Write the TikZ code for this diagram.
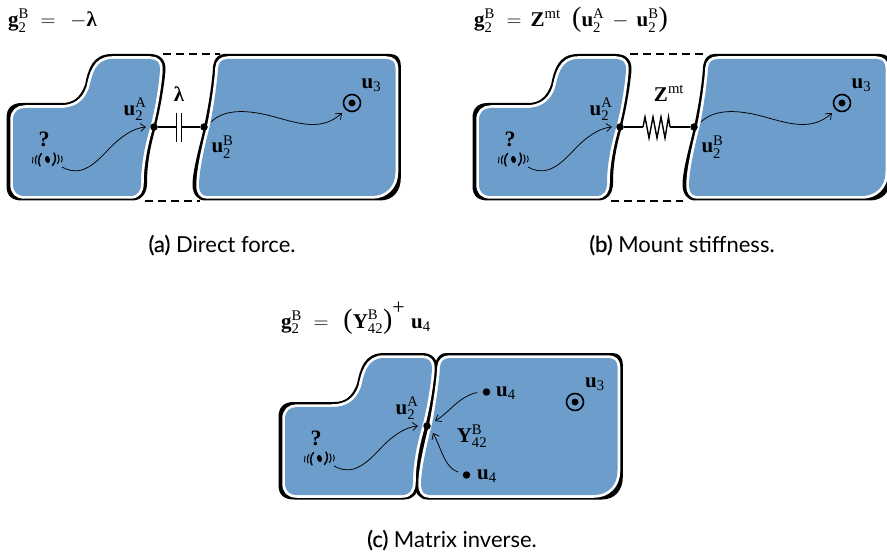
\documentclass[tikz,border=0pt]{standalone}
\usepackage{amsmath}
\usepackage{fontspec}
\setmainfont{Liberation Serif}
\newfontfamily\capfont{Lato}
\usetikzlibrary{arrows.meta}
\definecolor{bodyblue}{HTML}{6C9DCB}
\newcommand{\outerA}{(6.5,118) .. controls (6.5,108) and (12,103) .. (22,103) -- (62,103) .. controls (73,103) and (80,98) .. (85,85) .. controls (88,70) and (92,54) .. (112,54) -- (150,54) .. controls (160,54) and (166,60) .. (165.5,70) .. controls (164,88) and (160,110) .. (155,130) .. controls (150,148) and (147,165) .. (147,183) .. controls (147,193) and (142,200.5) .. (132,200.5) -- (22,200.5) .. controls (12,200.5) and (6.5,196) .. (6.5,186) -- cycle}
\newcommand{\innerA}{(13,120) .. controls (13,112) and (18,108) .. (25,108) -- (60,108) .. controls (74,108) and (84,102) .. (89,88) .. controls (92,75) and (95,59) .. (112,59) -- (150,59) .. controls (157,59) and (160.5,63) .. (160,70) .. controls (159,85) and (155,110) .. (150,128) .. controls (145,145) and (141,165) .. (141,183) .. controls (141,191) and (138,196) .. (130,196) -- (25,196) .. controls (17,196) and (13,192) .. (13,184) -- cycle}
\newcommand{\outerB}{(224,54) -- (390,54) .. controls (397,54) and (400.8,58) .. (400.8,66) -- (400.8,178) .. controls (400.8,191) and (393,200.5) .. (380,200.5) -- (205,200.5) .. controls (197,200.5) and (192.5,193) .. (192.5,185) .. controls (192.5,170) and (200,145) .. (204,127) .. controls (208,108) and (212,85) .. (213,67) .. controls (214,58) and (219,54) .. (224,54) -- cycle}
\newcommand{\innerB}{(228,59) -- (386,59) .. controls (392,59) and (395.5,62) .. (395.5,68) -- (395.5,172) .. controls (395.5,187) and (385,196) .. (372,196) -- (207,196) .. controls (202,196) and (199,192) .. (199,186) .. controls (199,170) and (205,145) .. (210,125) .. controls (213,110) and (217,85) .. (218,68) .. controls (218.5,62) and (222,59) .. (228,59) -- cycle}
\newcommand{\speakerglyph}{%
  \fill[black,rotate=12] (0,0) ellipse [x radius=2.4,y radius=3.6];
  \draw[wave,line width=1.5] (-6,-6) .. controls (-9.5,-2) and (-9.5,3) .. (-7.5,6.5);
  \draw[wave,line width=1.5] (6.5,-6.5) .. controls (8.5,-3) and (8.5,2) .. (5,6);
  \draw[wave,line width=1.1] (-10.5,-4) .. controls (-12.5,-1) and (-12.5,2) .. (-11.5,4.5);
  \draw[wave,line width=1.1] (10.5,-4.5) .. controls (12,-2) and (12,1) .. (10,4);
  \draw[wave,line width=0.9] (-14.5,-2.5) .. controls (-15.5,0) and (-15.5,1) .. (-15,3.5);
  \draw[wave,line width=0.9] (14,-3.5) .. controls (15,-1) and (15,0) .. (14,2.5);
}
\newcommand{\bu}[1]{\text{\bfseries #1}}
\newcommand{\tx}[1]{\text{#1}}
\newcommand{\uu}[2]{$\bu{u}_{\tx{#1}}^{\tx{#2}}$}
\newcommand{\bigp}[1]{\text{\fontsize{28}{30}\selectfont #1}}
\tikzset{
  lab/.style={inner sep=0pt,font=\fontsize{21}{24}\selectfont},
  eqn/.style={inner sep=0pt,anchor=base west,font=\fontsize{21}{24}\selectfont},
  captxt/.style={inner sep=0pt,anchor=base,font=\capfont\fontsize{22}{26}\selectfont},
  wave/.style={draw=black,line cap=round},
  thinarrow/.style={line width=0.75,-{Straight Barb[length=5pt,width=8pt]}},
  link/.style={line width=1.5},
  dashline/.style={line width=1.8,dash pattern=on 8pt off 5pt},
  bigdot/.style={circle,fill=black,inner sep=0pt,minimum size=7.5pt},
  target/.style={circle,draw=black,line width=1.6,inner sep=0pt,minimum size=17pt},
  qmark/.style={inner sep=0pt,font=\bfseries\fontsize{22}{24}\selectfont},
  whiteedge/.style={fill=bodyblue,preaction={draw=white,line width=5.5,line join=round}},
}
\begin{document}
\begin{tikzpicture}[x=1pt,y=-1pt]
\useasboundingbox (0,0) rectangle (887,559);
\clip (0,0) rectangle (887,559);

% equations
\node[eqn] (eqa) at (8,26.5) {$\bu{g}_{\tx{2}}^{\tx{B}}\;=\;\,-\bu{λ}$};
\node[eqn] (eqb) at (474,26.5) {$\bu{g}_{\tx{2}}^{\tx{B}}\;=\,\bu{Z}^{\tx{mt}}\;\;\bigp{(}\bu{u}_{\tx{2}}^{\tx{A}}\,-\,\bu{u}_{\tx{2}}^{\tx{B}}\bigp{)}$};
\node[eqn] (eqc) at (281,328) {$\bu{g}_{\tx{2}}^{\tx{B}}\;=\;\,\bigp{(}\bu{Y}_{\tx{42}}^{\tx{B}}\bigp{)}^{\text{\fontsize{22}{24}\selectfont +}}\;\bu{u}_{\tx{4}}$};

% dashed links, panel a
\coordinate (a-dt1) at (163,54); \coordinate (a-dt2) at (220,54);
\coordinate (a-db1) at (145,201); \coordinate (a-db2) at (200,201);
\draw[dashline] (a-dt1) -- (a-dt2);
\draw[dashline] (a-db1) -- (a-db2);
% dashed links, panel b
\coordinate (b-dt1) at (630,54); \coordinate (b-dt2) at (703,54);
\coordinate (b-db1) at (611,201); \coordinate (b-db2) at (683,201);
\draw[dashline] (b-dt1) -- (b-dt2);
\draw[dashline] (b-db1) -- (b-db2);

% black outlines
\fill[black] \outerA;
\fill[black] \outerB;
\begin{scope}[shift={(466,0)}] \fill[black] \outerA; \end{scope}
\begin{scope}[shift={(490,0)}] \fill[black] \outerB; \end{scope}
\begin{scope}[shift={(272,299)}] \fill[black] \outerA; \end{scope}
\begin{scope}[shift={(222,299)}] \fill[black] \outerB; \end{scope}
% white rim and blue
\path[whiteedge] \innerA;
\path[whiteedge] \innerB;
\begin{scope}[shift={(466,0)}] \path[whiteedge] \innerA; \end{scope}
\begin{scope}[shift={(490,0)}] \path[whiteedge] \innerB; \end{scope}
\begin{scope}[shift={(272,299)}] \path[whiteedge] \innerA; \end{scope}
\begin{scope}[shift={(222,299)}] \path[whiteedge] \innerB; \end{scope}

% left-body contents in the three panels
\foreach \px/\dx/\dy in {a/0/0,b/466/0,c/272/299}{
\begin{scope}[shift={(\dx,\dy)},name prefix=\px-]
  \node[qmark] (q) at (44,139) {?};
  \begin{scope}[shift={(47.5,159.5)}] \speakerglyph \end{scope}
  \coordinate (srcA) at (62,167);
  \coordinate (tipA) at (146,127);
  \draw[thinarrow] (srcA) .. controls (85,180) and (100,157) .. (115,143) .. controls (125,134) and (135,128) .. (tipA);
  \node[lab] (uA) at (135,109.5) {\uu{2}{A}};
\end{scope}}

% right-body contents of panels a and b
\foreach \px/\dx in {a/0,b/490}{
\begin{scope}[shift={(\dx,0)},name prefix=\px-]
  \node[target] (t) at (352,103) {};
  \node[bigdot,minimum size=7pt] (td) at (352,103) {};
  \node[lab] (u3) at (371.5,85.5) {$\bu{u}_{\tx{3}}$};
  \coordinate (srcB) at (211,122);
  \coordinate (tipB) at (342,113);
  \draw[thinarrow] (srcB) .. controls (225,108) and (250,110) .. (275,117) .. controls (300,124) and (322,131) .. (tipB);
  \node[lab] (uB) at (222.5,147) {\uu{2}{B}};
  \node[bigdot] (nB) at (204,127) {};
\end{scope}}

% panel a: capacitor
\node[bigdot] (a-nA) at (154,127) {};
\coordinate (a-pl) at (176.5,127); \coordinate (a-pr) at (181.5,127);
\draw[link] (a-nA) -- (a-pl);
\draw[link] (a-pr) -- (a-nB);
\draw[line width=1.7] (176.5,113) -- (a-pl) -- (176.5,142);
\draw[line width=1.7] (181.5,113) -- (a-pr) -- (181.5,142);
\node[lab] (a-lam) at (179,94) {\bfseries λ};
\node[captxt] (capa) at (222,252) {{\addfontfeatures{FakeBold=0.4}(a)} Direct force.};

% panel b: spring
\node[bigdot] (b-nA) at (620,127) {};
\coordinate (b-sl) at (643,127); \coordinate (b-sr) at (670,127);
\draw[link] (b-nA) -- (b-sl);
\draw[link] (b-sr) -- (b-nB);
\draw[line width=1.4,line join=miter] (b-sl) -- (645,117) -- (649,138) -- (653,117) -- (657,138) -- (661,117) -- (665,138) -- (668.5,117) -- (b-sr);
\node[lab] (b-zmt) at (669,93) {$\bu{Z}^{\tx{mt}}$};
\node[captxt] (capb) at (682,252) {{\addfontfeatures{FakeBold=0.4}(b)} Mount stiffness.};

% panel c
\node[bigdot] (c-nA) at (427,426) {};
\node[target] (c-t) at (575,402) {};
\node[bigdot,minimum size=7pt] (c-td) at (575,402) {};
\node[lab] (c-u3) at (595,384.5) {$\bu{u}_{\tx{3}}$};
\node[bigdot] (c-d1) at (486.5,392) {};
\node[bigdot] (c-d2) at (466.5,475) {};
\node[lab,anchor=west] (c-l1) at (496,393) {$\bu{u}_{\tx{4}}$};
\node[lab,anchor=west] (c-l2) at (477,476) {$\bu{u}_{\tx{4}}$};
\node[lab] (c-y) at (472,436) {$\bu{Y}_{\tx{42}}^{\tx{B}}$};
\coordinate (c-s1) at (477,392.5);
\coordinate (c-s2) at (458,472);
\coordinate (c-t1) at (435,421);
\coordinate (c-t2) at (433,433);
\draw[thinarrow] (c-s1) .. controls (458,397) and (450,412) .. (c-t1);
\draw[thinarrow] (c-s2) .. controls (445,468) and (442,450) .. (c-t2);
\node[captxt] (capc) at (452,547) {{\addfontfeatures{FakeBold=0.4}(c)} Matrix inverse.};
\end{tikzpicture}
\end{document}
